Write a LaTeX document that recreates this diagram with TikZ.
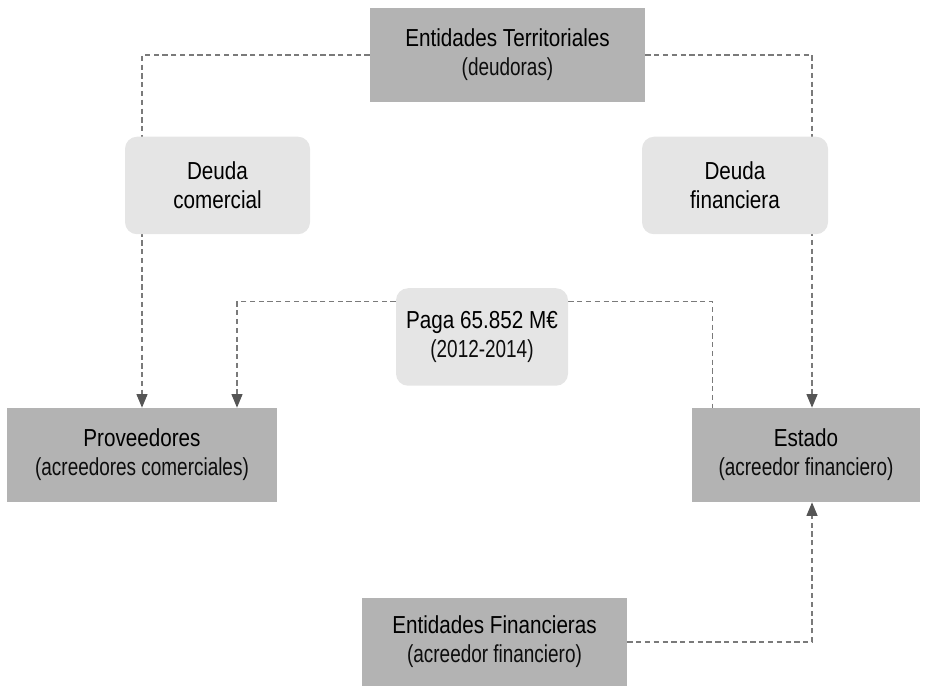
\documentclass[tikz,border=0pt]{standalone}
\usepackage{fontspec}
\setmainfont{Liberation Sans}[FakeStretch=0.84]
\newfontfamily\leve{Liberation Sans}[FakeStretch=0.77]
\usepackage{xcolor}
\usetikzlibrary{arrows.meta}
\usetikzlibrary{positioning}
\usetikzlibrary{backgrounds}
\definecolor{cinzaescuro}{HTML}{B3B3B3}
\definecolor{cinzaclaro}{HTML}{E5E5E5}
\definecolor{linhacor}{HTML}{7A7A7A}
\definecolor{setacor}{HTML}{555555}
\definecolor{textoleve}{HTML}{0D0D0D}
\newcommand{\sub}[1]{{\leve\color{textoleve}#1}}
\tikzset{
  entidade/.style={fill=cinzaescuro, align=center, minimum width=#1, minimum height=1.88cm, inner sep=2pt, font=\fontsize{14}{16.5}\selectfont},
  entidade/.default=5.4cm,
  deuda/.style={fill=cinzaclaro, rounded corners=0.24cm, align=center, minimum width=#1, minimum height=1.95cm, inner sep=2pt, font=\fontsize{14}{16.5}\selectfont},
  deuda/.default=3.7cm,
  linha/.style={draw=linhacor, densely dashed, line width=0.6pt},
  seta/.style={linha, -{Triangle[length=0.27cm, width=0.22cm, color=setacor, fill=setacor]}},
}

\begin{document}
\begin{tikzpicture}
  \useasboundingbox (0,0) rectangle (18.54,13.74);

  \node[entidade=5.5cm] (terr) at (10.15,12.64) {Entidades Territoriales\\\sub{(deudoras)}};
  \node[deuda] (dcom) at (4.35,10.03) {Deuda\\comercial};
  \node[deuda=3.72cm] (dfin) at (14.7,10.03) {Deuda\\financiera};
  \node[deuda=3.44cm] (paga) at (9.64,7.0) {Paga 65.852 M€\\\sub{(2012-2014)}};
  \node[entidade] (prov) at (2.84,4.64) {Proveedores\\\sub{(acreedores comerciales)}};
  \node[entidade=4.56cm] (estado) at (16.12,4.64) {Estado\\\sub{(acreedor financiero)}};
  \node[entidade=5.3cm, minimum height=1.76cm] (finan) at (9.89,0.9) {Entidades Financieras\\\sub{(acreedor financiero)}};

  % conectores por baixo das caixas
  \begin{scope}[on background layer]
    \draw[seta] (terr.west) -| (prov.north);
    \draw[seta] (terr.east) -| ([xshift=0.12cm]estado.north);
    \draw[seta] ([yshift=-0.28cm]paga.north west) -| ([xshift=1.9cm]prov.north);
    \draw[linha] ([yshift=-0.28cm]paga.north east) -| ([xshift=0.42cm]estado.north west);
    \draw[seta] (finan.east) -| ([xshift=0.12cm]estado.south);
  \end{scope}
\end{tikzpicture}
\end{document}
